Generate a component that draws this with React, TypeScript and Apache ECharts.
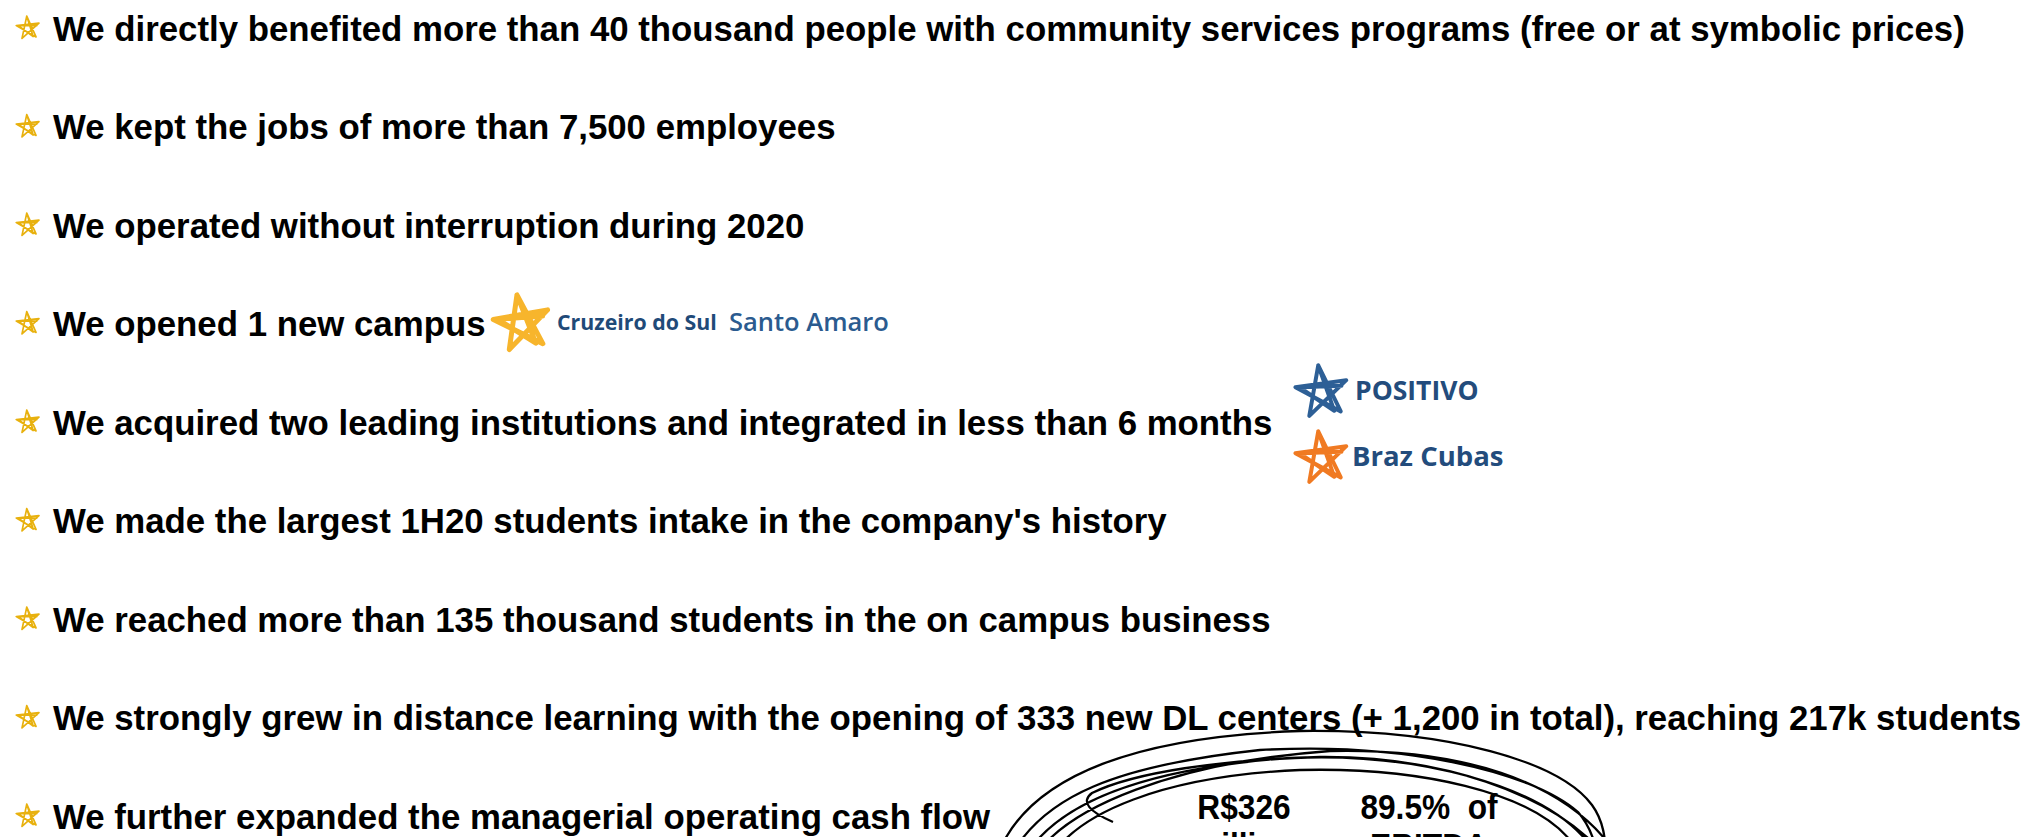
import React, { useEffect, useRef } from "react";
import * as echarts from "echarts";

const bullets: string[] = [
  "We directly benefited more than 40 thousand people with community services programs (free or at symbolic prices)",
  "We kept the jobs of more than 7,500 employees",
  "We operated without interruption during 2020",
  "We opened 1 new campus",
  "We acquired two leading institutions and integrated in less than 6 months",
  "We made the largest 1H20 students intake in the company's history",
  "We reached more than 135 thousand students in the on campus business",
  "We strongly grew in distance learning with the opening of 333 new DL centers (+ 1,200 in total), reaching 217k students",
  "We further expanded the managerial operating cash flow",
];

const campusLogo: string[] = ["Cruzeiro do Sul", "Santo Amaro"];
const acquiredLogos: string[] = ["POSITIVO", "Braz Cubas"];
const cashFlowStats: string[][] = [
  ["R$326", "million"],
  ["89.5%  of", "EBITDA"],
];

const SCRIBBLE = [
  "M 995 862 C 1025 770 1150 736 1300 731 C 1450 729 1560 762 1592 805 C 1603 820 1606 838 1606 862",
  "M 1008 862 C 1040 795 1120 765 1260 750 C 1400 742 1530 770 1578 812 C 1590 826 1596 842 1598 862",
  "M 1022 862 C 1055 800 1150 768 1290 758 C 1420 752 1540 786 1586 840 L 1590 862",
  "M 1113 822 C 1090 812 1080 802 1092 793 C 1135 772 1220 760 1320 757 C 1440 756 1548 792 1602 852",
  "M 1048 862 C 1075 812 1165 776 1300 770 C 1420 767 1530 792 1570 840 L 1575 862",
  "M 1032 862 C 1062 806 1180 762 1330 751 C 1460 748 1562 780 1612 848",
].join(" ");

echarts.graphic.registerShape("scribble", echarts.graphic.extendPath(SCRIBBLE, {}) as any);

function starPts(cx: number, cy: number, r: number, rotDeg: number): number[][] {
  const v: number[][] = [];
  for (let k = 0; k < 5; k++) {
    const a = ((-90 + rotDeg + k * 72) * Math.PI) / 180;
    v.push([cx + r * Math.cos(a), cy + r * Math.sin(a)]);
  }
  const v2: number[][] = [];
  for (let k = 0; k < 5; k++) {
    const a = ((-90 + rotDeg + 6 + k * 72) * Math.PI) / 180;
    v2.push([cx + 0.82 * r * Math.cos(a) - r * 0.05, cy + 0.82 * r * Math.sin(a) + r * 0.05]);
  }
  return [v[0], v[2], v[4], v[1], v[3], v[0], v2[2], v2[4], v2[1]];
}

function star(cx: number, cy: number, r: number, rot: number, color: string, lw: number) {
  return {
    type: "polyline",
    silent: true,
    shape: { points: starPts(cx, cy, r, rot) },
    style: { stroke: color, lineWidth: lw, fill: "none", lineJoin: "round", lineCap: "round" },
  };
}

const FONT = '"Liberation Sans", Arial, sans-serif';
const LOGO_FONT = '"Open Sans", "Noto Sans", sans-serif';

export default function App() {
  const ref = useRef<HTMLDivElement>(null);
  useEffect(() => {
    if (!ref.current) return;
    const chart = echarts.init(ref.current, null, { renderer: "svg" });
    const y0 = 28;
    const step = 98.5;
    const elements: any[] = [];
    bullets.forEach((t, i) => {
      const y = y0 + i * step;
      elements.push(star(28, y, 12, -6, "#E8B10E", 1.7));
      elements.push({
        type: "text",
        x: 53,
        y,
        style: {
          text: t,
          x: 0,
          y: 0,
          fill: "#000",
          fontFamily: FONT,
          fontWeight: "bold",
          fontSize: 34.8,
          align: "left",
          verticalAlign: "middle",
        },
      });
    });
    // campus logo
    const yCampus = y0 + 3 * step;
    elements.push(star(522, yCampus, 29, -10, "#F7B52C", 5));
    elements.push({
      type: "text",
      x: 557,
      y: yCampus - 2,
      scaleX: 0.97,
      style: { text: campusLogo[0], x: 0, y: 0, fill: "#1F4A78", fontFamily: LOGO_FONT, fontWeight: 700, fontSize: 22, align: "left", verticalAlign: "middle" },
    });
    elements.push({
      type: "text",
      x: 729,
      y: yCampus - 3,
      style: { text: campusLogo[1], x: 0, y: 0, fill: "#2B5B8F", fontFamily: LOGO_FONT, fontWeight: 600, fontSize: 25.5, align: "left", verticalAlign: "middle" },
    });
    // acquired logos
    elements.push(star(1322, 392, 27, -8, "#2D5F96", 4));
    elements.push({
      type: "text",
      x: 1355,
      y: 390,
      style: { text: acquiredLogos[0], x: 0, y: 0, fill: "#234C7C", fontFamily: LOGO_FONT, fontWeight: 700, fontSize: 26.5, align: "left", verticalAlign: "middle" },
    });
    elements.push(star(1322, 458, 27, -8, "#F07A22", 4));
    elements.push({
      type: "text",
      x: 1352,
      y: 455,
      style: { text: acquiredLogos[1], x: 0, y: 0, fill: "#234C7C", fontFamily: LOGO_FONT, fontWeight: 700, fontSize: 27.5, align: "left", verticalAlign: "middle" },
    });
    // scribbled ellipse
    elements.push({
      type: "scribble",
      silent: true,
      style: { stroke: "#000", lineWidth: 2.3, fill: "none" },
    });
    const statX = [1244, 1429];
    cashFlowStats.forEach((lines, i) => {
      lines.forEach((t, j) => {
        elements.push({
          type: "text",
          x: statX[i],
          y: 806 + j * 39,
          scaleX: 0.88,
          style: { text: t, x: 0, y: 0, fill: "#000", fontFamily: FONT, fontWeight: "bold", fontSize: 36, align: "center", verticalAlign: "middle" },
        });
      });
    });
    chart.setOption({
      animation: false,
      backgroundColor: "#ffffff",
      graphic: { elements },
    });
    return () => chart.dispose();
  }, []);
  return <div ref={ref} style={{ position: "absolute", left: 0, top: 0, width: 2023, height: 837 }} />;
}
